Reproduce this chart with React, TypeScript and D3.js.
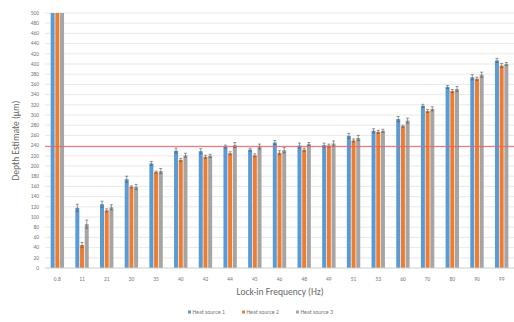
import React, { useRef, useEffect } from "react";
import * as d3 from "d3";

const categories = ["0.8", "11", "21", "30", "35", "40", "42", "44", "45", "46", "48", "49", "51", "53", "60", "70", "80", "90", "99"];
const seriesNames = ["Heat source 1", "Heat source 2", "Heat source 3"];
const source1 = [500, 118, 125, 174, 205, 230, 229, 238, 232, 246, 240, 241, 259, 269, 292, 318, 355, 374, 407];
const source2 = [500, 45, 113, 159, 188, 212, 218, 225, 221, 226, 232, 240, 250, 267, 278, 308, 347, 371, 397];
const source3 = [500, 86, 119, 159, 190, 221, 220, 241, 238, 231, 243, 244, 255, 269, 289, 312, 351, 379, 400];
const err1 = [0, 7, 6, 6, 4, 5, 5, 3, 3, 4, 5, 4, 5, 4, 5, 3, 3, 5, 4];
const err2 = [0, 5, 3, 2, 2, 3, 3, 3, 3, 4, 3, 3, 3, 3, 2, 3, 3, 3, 4];
const err3 = [0, 8, 5, 5, 5, 4, 3, 5, 5, 5, 3, 5, 5, 3, 5, 4, 5, 5, 3];
const yTicks = d3.range(0, 501, 20);
const thresholdValue = 238;
const colors = ["#5B9BD5", "#ED7D31", "#A5A5A5"];

const width = 514;
const height = 322;
const margin = { top: 13, right: 0, bottom: 54, left: 45 };

function App() {
  const svgRef = useRef<SVGSVGElement>(null);

  useEffect(() => {
    const svg = d3.select(svgRef.current);
    svg.selectAll("*").remove();

    const values = [source1, source2, source3];
    const errors = [err1, err2, err3];
    const innerBottom = height - margin.bottom;

    // Scales
    const x0 = d3
      .scaleBand()
      .domain(categories)
      .range([margin.left, width - margin.right])
      .paddingInner(0.4)
      .paddingOuter(0.2);

    const x1 = d3
      .scaleBand()
      .domain(seriesNames)
      .range([0, x0.bandwidth()])
      .padding(0.15);

    const y = d3.scaleLinear().domain([0, 500]).range([innerBottom, margin.top]);

    // Gridlines
    svg
      .append("g")
      .selectAll("line")
      .data(yTicks)
      .join("line")
      .attr("x1", margin.left)
      .attr("x2", width)
      .attr("y1", (d) => y(d))
      .attr("y2", (d) => y(d))
      .attr("stroke", "#E3E3E3")
      .attr("stroke-width", 0.8);

    // Y tick labels
    svg
      .append("g")
      .selectAll("text")
      .data(yTicks)
      .join("text")
      .attr("x", margin.left - 6)
      .attr("y", (d) => y(d))
      .attr("dy", "0.33em")
      .attr("text-anchor", "end")
      .attr("font-size", 5.5)
      .attr("fill", "#777")
      .text((d) => d);

    // Bars
    const groups = svg
      .append("g")
      .selectAll("g")
      .data(categories)
      .join("g")
      .attr("transform", (d) => `translate(${x0(d)},0)`);

    seriesNames.forEach((name, si) => {
      groups
        .append("rect")
        .attr("x", x1(name)!)
        .attr("width", x1.bandwidth())
        .attr("y", (_, i) => y(values[si][i]))
        .attr("height", (_, i) => innerBottom - y(values[si][i]))
        .attr("fill", colors[si]);

      // Error bars
      const eb = groups.filter((_, i) => errors[si][i] > 0);
      const cx = x1(name)! + x1.bandwidth() / 2;
      const val = (d: string) => values[si][categories.indexOf(d)];
      const er = (d: string) => errors[si][categories.indexOf(d)];
      eb.append("line")
        .attr("x1", cx)
        .attr("x2", cx)
        .attr("y1", (d) => y(val(d) - er(d)))
        .attr("y2", (d) => y(val(d) + er(d)))
        .attr("stroke", "#555")
        .attr("stroke-width", 0.6);
      [-1, 1].forEach((sgn) => {
        eb.append("line")
          .attr("x1", cx - 1.5)
          .attr("x2", cx + 1.5)
          .attr("y1", (d) => y(val(d) + sgn * er(d)))
          .attr("y2", (d) => y(val(d) + sgn * er(d)))
          .attr("stroke", "#555")
          .attr("stroke-width", 0.6);
      });
    });

    // Baseline
    svg
      .append("line")
      .attr("x1", margin.left)
      .attr("x2", width)
      .attr("y1", innerBottom)
      .attr("y2", innerBottom)
      .attr("stroke", "#D0D0D0")
      .attr("stroke-width", 0.8);

    // Threshold line
    svg
      .append("line")
      .attr("x1", margin.left)
      .attr("x2", width)
      .attr("y1", y(thresholdValue))
      .attr("y2", y(thresholdValue))
      .attr("stroke", "#F25A5E")
      .attr("stroke-width", 0.9);

    // X tick labels
    svg
      .append("g")
      .selectAll("text")
      .data(categories)
      .join("text")
      .attr("x", (d) => x0(d)! + x0.bandwidth() / 2)
      .attr("y", innerBottom + 13)
      .attr("text-anchor", "middle")
      .attr("font-size", 5.5)
      .attr("fill", "#777")
      .text((d) => d);

    // Axis titles
    svg
      .append("text")
      .attr("x", 280)
      .attr("y", 295)
      .attr("text-anchor", "middle")
      .attr("font-size", 9.5)
      .attr("fill", "#666")
      .text("Lock-in Frequency (Hz)");

    svg
      .append("text")
      .attr("transform", `translate(19,${(margin.top + innerBottom) / 2}) rotate(-90)`)
      .attr("text-anchor", "middle")
      .attr("font-size", 9.5)
      .attr("fill", "#666")
      .text("Depth Estimate (µm)");

    // Legend
    const legendX = [188, 242, 296];
    const legend = svg
      .append("g")
      .selectAll("g")
      .data(seriesNames)
      .join("g")
      .attr("transform", (_, i) => `translate(${legendX[i]},314)`);
    legend
      .append("rect")
      .attr("x", 0)
      .attr("y", -3.5)
      .attr("width", 3)
      .attr("height", 3)
      .attr("fill", (_, i) => colors[i]);
    legend
      .append("text")
      .attr("x", 4.5)
      .attr("y", 0)
      .attr("font-size", 5.8)
      .attr("fill", "#777")
      .text((d) => d);
  }, []);

  return (
    <svg
      ref={svgRef}
      width={width}
      height={height}
      style={{ position: "absolute", left: 0, top: 0, fontFamily: "Calibri, Carlito, 'Open Sans', sans-serif", background: "#fff" }}
    />
  );
}

export default App;
